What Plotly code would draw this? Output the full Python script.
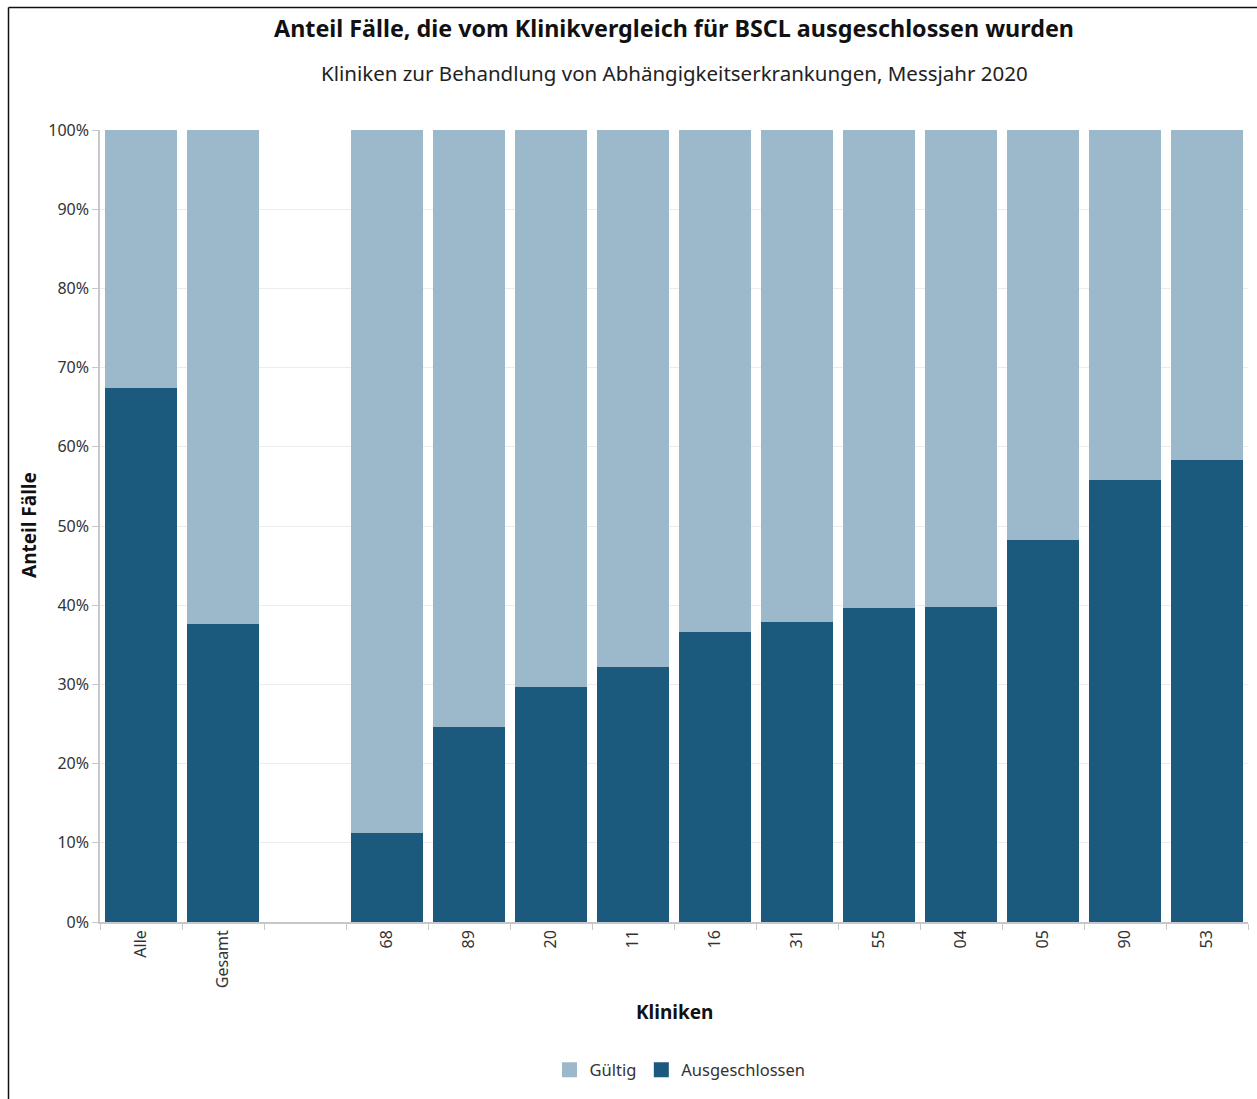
import plotly.graph_objects as go

categories = ["Alle", "Gesamt", " ", "68", "89", "20", "11", "16", "31", "55", "04", "05", "90", "53"]
ausgeschlossen = [67.4, 37.6, None, 11.2, 24.6, 29.7, 32.2, 36.6, 37.9, 39.6, 39.8, 48.2, 55.8, 58.3]
gueltig = [None if v is None else round(100 - v, 1) for v in ausgeschlossen]
y_ticks = [0, 10, 20, 30, 40, 50, 60, 70, 80, 90, 100]
y_ticktext = [f"{v}%" for v in y_ticks]

DARK = "#1b5a7c"
LIGHT = "#9bb9ca"
FONT = "Noto Sans"

fig = go.Figure()
fig.add_trace(go.Bar(x=categories, y=ausgeschlossen, name="Ausgeschlossen",
                     marker=dict(color=DARK, line=dict(width=0)), showlegend=False))
fig.add_trace(go.Bar(x=categories, y=gueltig, name="Gültig",
                     marker=dict(color=LIGHT, line=dict(width=0)), showlegend=False))
# legend entries with larger square swatches
fig.add_trace(go.Scatter(x=[None], y=[None], mode="markers", name="Gültig",
                         marker=dict(symbol="square", size=15, color=LIGHT), legendrank=1))
fig.add_trace(go.Scatter(x=[None], y=[None], mode="markers", name="Ausgeschlossen",
                         marker=dict(symbol="square", size=15, color=DARK), legendrank=2))

W, H = 1257, 1099
L, R, T, B = 100, 9, 130, 177
pw, ph = W - L - R, H - T - B

def px(x):
    return (x - L) / pw

def py(y):
    return (H - B - y) / ph

fig.update_layout(
    width=W, height=H,
    margin=dict(l=L, r=R, t=T, b=B),
    barmode="stack", bargap=0.11,
    plot_bgcolor="white", paper_bgcolor="white",
    font=dict(family=FONT, color="#333333", size=16),
    title=dict(text="<b>Anteil Fälle, die vom Klinikvergleich für BSCL ausgeschlossen wurden</b>",
               x=px(674), xref="paper", xanchor="center",
               y=1 - 29 / H, yref="container", yanchor="middle",
               font=dict(size=23.3, color="#111111", family=FONT)),
    showlegend=True,
    legend=dict(orientation="h", x=px(680), xanchor="center", y=py(1070), yanchor="middle",
                font=dict(size=16.5, color="#333333"), traceorder="normal"),
    xaxis=dict(type="category", categoryorder="array", categoryarray=categories,
               tickangle=-90, tickson="boundaries", ticks="outside", ticklen=6,
               tickcolor="#c8c8c8", showline=True, linecolor="#c8c8c8", linewidth=1.5,
               showgrid=False, tickfont=dict(size=16, color="#333333")),
    yaxis=dict(range=[0, 100], tickmode="array", tickvals=y_ticks, ticktext=y_ticktext,
               ticks="outside", ticklen=6,
               tickcolor="#c8c8c8", showline=True, linecolor="#c8c8c8", linewidth=1.5,
               showgrid=True, gridcolor="#ececec", gridwidth=1, zeroline=False,
               tickfont=dict(size=16, color="#333333")),
    annotations=[
        dict(text="Kliniken zur Behandlung von Abhängigkeitserkrankungen, Messjahr 2020",
             x=px(674), y=py(73), xref="paper", yref="paper", showarrow=False,
             xanchor="center", yanchor="middle", font=dict(size=20.5, color="#222222")),
        dict(text="<b>Kliniken</b>", x=px(674), y=py(1012), xref="paper", yref="paper",
             showarrow=False, xanchor="center", yanchor="middle",
             font=dict(size=19, color="#111111")),
        dict(text="<b>Anteil Fälle</b>", x=px(29), y=py(525), xref="paper", yref="paper",
             showarrow=False, xanchor="center", yanchor="middle", textangle=-90,
             font=dict(size=19, color="#111111")),
    ],
    shapes=[
        dict(type="line", xref="paper", yref="paper", x0=px(8.5), x1=px(8.5),
             y0=py(H + 5), y1=py(7.5), line=dict(color="#111111", width=1.5)),
        dict(type="line", xref="paper", yref="paper", x0=px(8.5), x1=px(W + 5),
             y0=py(7.5), y1=py(7.5), line=dict(color="#111111", width=1.5)),
    ],
)

fig.write_html("out.html", config={"displayModeBar": False},
               post_script="document.body.style.margin='0';document.body.style.overflow='hidden';")
